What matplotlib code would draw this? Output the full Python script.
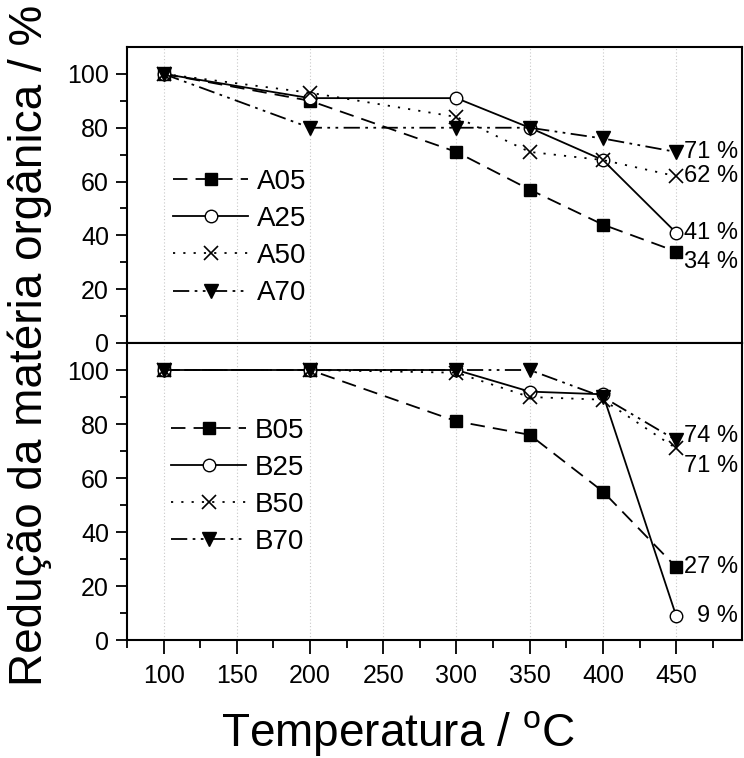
import matplotlib
matplotlib.use("Agg")
import matplotlib.pyplot as plt
import matplotlib.transforms as mtransforms

plt.rcParams['font.family'] = ['Liberation Sans', 'DejaVu Sans']
plt.rcParams['mathtext.fontset'] = 'custom'
plt.rcParams['mathtext.rm'] = 'Liberation Sans'

temps = [100, 200, 300, 350, 400, 450]

a_labels = ["A05", "A25", "A50", "A70"]
a05 = [100, 90, 71, 57, 44, 34]
a25 = [100, 91, 91, 80, 68, 41]
a50 = [100, 93, 84, 71, 68, 62]
a70 = [100, 80, 80, 80, 76, 71]

b_labels = ["B05", "B25", "B50", "B70"]
b05 = [100, 100, 81, 76, 55, 27]
b25 = [100, 100, 100, 92, 91, 9]
b50 = [100, 100, 99, 90, 89, 71]
b70 = [100, 100, 100, 100, 90, 74]

a_end_text = ["34 %", "41 %", "62 %", "71 %"]
b_end_text = ["27 %", "9 %", "71 %", "74 %"]

xticks = [100, 150, 200, 250, 300, 350, 400, 450]
yticks = [0, 20, 40, 60, 80, 100]

# styles
styles = [
    dict(ls=(0, (8, 4.5)), marker='s', mfc='black', ms=9),
    dict(ls='-', marker='o', mfc='white', ms=9),
    dict(ls=(0, (1.2, 4.5)), marker='x', mfc='black', ms=10, mew=1.2),
    dict(ls=(0, (9, 3, 1.5, 3, 1.5, 3)), marker='v', mfc='black', ms=10),
]
a_dy = [-4, 0, 0, 0]
b_dy = [0, 0, -6.5, 1.5]

fig = plt.figure(figsize=(7.44, 7.58), dpi=100)
L = 127 / 744
R = 742 / 744
ax1 = fig.add_axes([L, 1 - 343 / 758, R - L, (343 - 47) / 758])
ax2 = fig.add_axes([L, 1 - 640 / 758, R - L, (640 - 343) / 758])

def draw(ax, series, labels, end_text, dys, leg_anchor):
    handles = []
    for y, lab, st in zip(series, labels, styles):
        h, = ax.plot(temps, y, color='black', lw=1.3, mec='black',
                     label=lab, zorder=3, clip_on=False, **st)
        handles.append(h)
    tr = mtransforms.blended_transform_factory(ax.transAxes, ax.transData)
    for y, t, dy in zip(series, end_text, dys):
        ax.text(0.993, y[-1] + dy, t, transform=tr, ha='right', va='center',
                fontsize=17)
    ax.set_xlim(75, 495)
    ax.set_ylim(0, 110)
    ax.set_yticks(yticks)
    ax.set_yticks(range(10, 110, 20), minor=True)
    ax.set_xticks(xticks)
    ax.set_xticks(range(75, 500, 50), minor=True)
    ax.grid(axis='x', which='major', color='#c8c8c8', ls=(0, (1, 2)), lw=0.8)
    for s in ax.spines.values():
        s.set_linewidth(1.5)
    ax.tick_params(axis='y', which='major', direction='out', length=8, width=1.3,
                   labelsize=18, pad=5)
    ax.tick_params(axis='y', which='minor', direction='out', length=5, width=1.3)
    ax.legend(handles=handles, loc='center left', bbox_to_anchor=leg_anchor,
              frameon=False, fontsize=20, numpoints=1, handlelength=2.7,
              handletextpad=0.3, labelspacing=0.40, borderpad=0,
              borderaxespad=0)

draw(ax1, [a05, a25, a50, a70], a_labels, a_end_text, a_dy, (0.075, 0.356))
draw(ax2, [b05, b25, b50, b70], b_labels, b_end_text, b_dy, (0.072, 0.517))

ax1.tick_params(axis='x', which='both', bottom=False, labelbottom=False)
ax2.tick_params(axis='x', which='major', direction='out', length=10, width=1.3,
                labelsize=18, pad=7)
ax2.tick_params(axis='x', which='minor', direction='out', length=6, width=1.3)

fig.text(30 / 744, 0.545, "Redução da matéria orgânica / %", rotation=90,
         ha='center', va='center', fontsize=33)
fig.text(398 / 744, 1 - 746 / 758, r"Temperatura / $^{\mathrm{o}}$C",
         ha='center', va='baseline', fontsize=33)

fig.savefig("out.png", dpi=100)
